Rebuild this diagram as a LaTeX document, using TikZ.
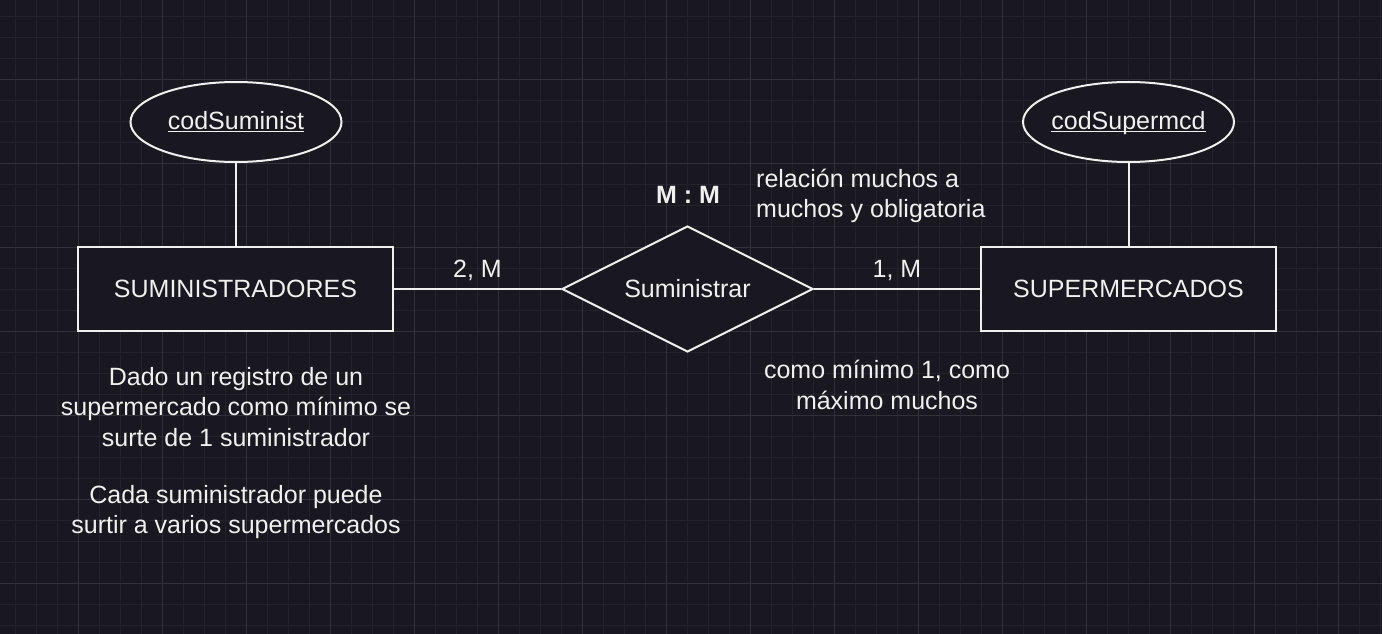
\documentclass[tikz,border=0pt]{standalone}
\usepackage{fontspec}
\setmainfont{Liberation Sans}
\usetikzlibrary{shapes.geometric,positioning}
\definecolor{bgdark}{RGB}{25,23,31}
\definecolor{gridminor}{RGB}{36,34,42}
\definecolor{gridmajor}{RGB}{50,48,56}
\definecolor{inkwhite}{RGB}{240,240,240}
\newcommand{\keyattr}[1]{\makebox[0pt]{\underline{\smash{#1}}}\vphantom{S}}
\tikzset{
  erfont/.style={font=\fontsize{25}{30.5}\selectfont},
  entity/.style={draw=inkwhite, line width=2pt, fill=bgdark, text=inkwhite, erfont, minimum height=84pt, inner sep=0pt},
  attrib/.style={ellipse, draw=inkwhite, line width=2pt, fill=bgdark, text=inkwhite, erfont, minimum width=211pt, minimum height=80pt, inner sep=0pt},
  relation/.style={diamond, aspect=2, draw=inkwhite, line width=2pt, fill=bgdark, text=inkwhite, erfont, minimum width=251pt, minimum height=126pt, inner sep=0pt},
  link/.style={draw=inkwhite, line width=2pt},
  note/.style={text=inkwhite, erfont, inner sep=0pt}
}
\begin{document}
\begin{tikzpicture}[x=1pt,y=-1pt]
\fill[bgdark] (0,0) rectangle (1382,634);
\useasboundingbox (0,0) rectangle (1382,634);
\foreach \x in {15,36,...,1382} % edit here for the grid
\draw[gridminor,line width=0.8pt] (\x,0) -- (\x,634);
\foreach \y in {16,37,...,634}
\draw[gridminor,line width=0.8pt] (0,\y) -- (1382,\y);
\foreach \x in {78,162,...,1382} % edit here for the major lines
\draw[gridmajor,line width=0.8pt] (\x,0) -- (\x,634);
\foreach \y in {79,163,...,634}
\draw[gridmajor,line width=0.8pt] (0,\y) -- (1382,\y);

\node[entity, minimum width=315pt] (suministradores) at (235.5,289) {SUMINISTRADORES};
\node[entity, minimum width=295pt] (supermercados) at (1128.5,289) {SUPERMERCADOS};
\node[relation] (suministrar) at (687.5,289) {Suministrar};
\node[attrib] (codsuminist) at (236,122) {\keyattr{codSuminist}};
\node[attrib] (codsupermcd) at (1128.5,122) {\keyattr{codSupermcd}};

\draw[link] (codsuminist.south) -- (codsuminist.south |- suministradores.north);
\draw[link] (codsupermcd.south) -- (codsupermcd.south |- supermercados.north);
\draw[link] (suministradores) -- node[note, above=7pt] {2, M} (suministrar);
\draw[link] (suministrar) -- node[note, above=7pt] {1, M} (supermercados);

\node[note, font=\fontsize{25}{30.5}\selectfont\bfseries] (cardinal) at (688,195) {M : M};
\node[note, align=left, anchor=west] (relnote) at (756,196) {relación muchos a\\muchos y obligatoria};
\node[note, align=center] (minnote) at (887,385) {como mínimo 1, como\\máximo muchos};
\node[note, align=center] (dadonote) at (236,407) {Dado un registro de un\\supermercado como mínimo se\\surte de 1 suministrador};
\node[note, align=center] (cadanote) at (236,512) {Cada suministrador puede\\surtir a varios supermercados};
\end{tikzpicture}
\end{document}
